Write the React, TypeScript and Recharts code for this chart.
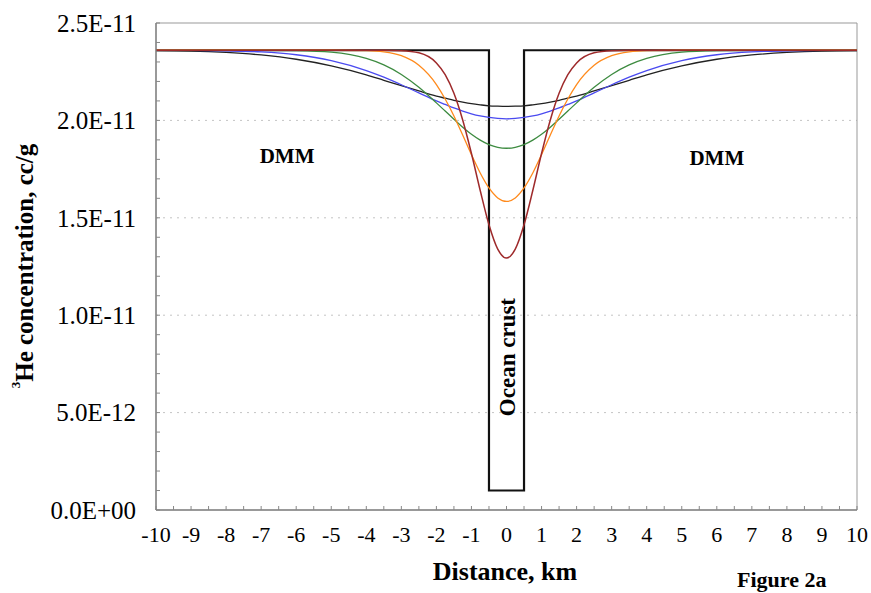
import React from 'react';
import { LineChart, Line, XAxis, YAxis, CartesianGrid, ReferenceLine, ReferenceDot } from 'recharts';

// distance, km
const distances = [-10, -9, -8, -7, -6, -5, -4, -3.5, -3, -2.5, -2, -1.75, -1.5, -1.25, -1, -0.75, -0.5, -0.25, 0,
  0.25, 0.5, 0.75, 1, 1.25, 1.5, 1.75, 2, 2.5, 3, 3.5, 4, 5, 6, 7, 8, 9, 10];

// 3He concentration, in units of 1E-11 cc/g
const brownCurve = [2.36, 2.36, 2.36, 2.36, 2.36, 2.36, 2.36, 2.36, 2.358, 2.347, 2.295, 2.235, 2.139, 2.002, 1.83, 1.64, 1.464, 1.339, 1.293,
  1.339, 1.464, 1.64, 1.83, 2.002, 2.139, 2.235, 2.295, 2.347, 2.358, 2.36, 2.36, 2.36, 2.36, 2.36, 2.36, 2.36, 2.36];
const orangeCurve = [2.36, 2.36, 2.36, 2.36, 2.36, 2.36, 2.358, 2.352, 2.332, 2.283, 2.184, 2.11, 2.023, 1.925, 1.824, 1.73, 1.653, 1.602, 1.584,
  1.602, 1.653, 1.73, 1.824, 1.925, 2.023, 2.11, 2.184, 2.283, 2.332, 2.352, 2.358, 2.36, 2.36, 2.36, 2.36, 2.36, 2.36];
const greenCurve = [2.36, 2.36, 2.36, 2.36, 2.358, 2.35, 2.318, 2.285, 2.236, 2.17, 2.09, 2.048, 2.006, 1.965, 1.929, 1.899, 1.876, 1.862, 1.857,
  1.862, 1.876, 1.899, 1.929, 1.965, 2.006, 2.048, 2.09, 2.17, 2.236, 2.285, 2.318, 2.35, 2.358, 2.36, 2.36, 2.36, 2.36];
const blueCurve = [2.36, 2.359, 2.357, 2.352, 2.337, 2.307, 2.256, 2.222, 2.183, 2.141, 2.1, 2.082, 2.064, 2.048, 2.034, 2.023, 2.015, 2.01, 2.008,
  2.01, 2.015, 2.023, 2.034, 2.048, 2.064, 2.082, 2.1, 2.141, 2.183, 2.222, 2.256, 2.307, 2.337, 2.352, 2.357, 2.359, 2.36];
const blackCurve = [2.358, 2.356, 2.349, 2.336, 2.314, 2.28, 2.234, 2.206, 2.178, 2.151, 2.125, 2.114, 2.103, 2.094, 2.086, 2.08, 2.075, 2.073, 2.072,
  2.073, 2.075, 2.08, 2.086, 2.094, 2.103, 2.114, 2.125, 2.151, 2.178, 2.206, 2.234, 2.28, 2.314, 2.336, 2.349, 2.356, 2.358];

// initial profile: mantle with the ocean crust slab in the middle
const stepDistances = [-10, -0.5, -0.5, 0.5, 0.5, 10];
const stepValues = [2.36, 2.36, 0.1, 0.1, 2.36, 2.36];

const xTicks = [-10, -9.5, -9, -8.5, -8, -7.5, -7, -6.5, -6, -5.5, -5, -4.5, -4, -3.5, -3, -2.5, -2, -1.5, -1, -0.5, 0,
  0.5, 1, 1.5, 2, 2.5, 3, 3.5, 4, 4.5, 5, 5.5, 6, 6.5, 7, 7.5, 8, 8.5, 9, 9.5, 10];
const yTicks = [0, 0.1, 0.2, 0.3, 0.4, 0.5, 0.6, 0.7, 0.8, 0.9, 1, 1.1, 1.2, 1.3, 1.4, 1.5, 1.6, 1.7, 1.8, 1.9, 2,
  2.1, 2.2, 2.3, 2.4, 2.5];
const yGridLines = [0.5, 1, 1.5, 2];

const SERIF = '"Liberation Serif", "Times New Roman", serif';
const X_MARGIN = 16;
const Y_MARGIN = 20;

const rows = distances.map((x, i) => ({
  x,
  brown: brownCurve[i],
  orange: orangeCurve[i],
  green: greenCurve[i],
  blue: blueCurve[i],
  black: blackCurve[i],
}));
const stepRows = stepDistances.map((x, i) => ({ x, step: stepValues[i] }));

// Excel style: 2.5E-11, 0.0E+00
const sci = (v: number) => {
  const s = (v * 1e-11).toExponential(1);
  return s.replace(/e([+-])(\d+)/, (_m, sign, d) => 'E' + sign + d.padStart(2, '0'));
};

const XTick = (props: any) => {
  const { x, y, payload } = props;
  const axisY = y - X_MARGIN;
  const major = Number.isInteger(payload.value);
  return (
    <g>
      <line x1={x} x2={x} y1={axisY} y2={axisY - 4} stroke="#888" strokeWidth={1} />
      {major && (
        <text x={x} y={y} dy="0.71em" textAnchor="middle" fontFamily={SERIF} fontSize={22} fill="#000">
          {payload.value}
        </text>
      )}
    </g>
  );
};

const YTick = (props: any) => {
  const { x, y, payload } = props;
  const axisX = x + Y_MARGIN;
  const v = payload.value;
  const major = Math.abs(v * 2 - Math.round(v * 2)) < 1e-6;
  return (
    <g>
      <line x1={axisX} x2={axisX + 4} y1={y} y2={y} stroke="#888" strokeWidth={1} />
      {major && (
        <text x={x} y={y} dy="0.35em" textAnchor="end" fontFamily={SERIF} fontSize={25} fill="#000">
          {sci(v)}
        </text>
      )}
    </g>
  );
};

const labelStyle = { fill: '#000', fontFamily: SERIF, fontWeight: 700 };

export default function App() {
  return (
    <div style={{ position: 'absolute', left: 0, top: 0, width: 871, height: 593, background: '#fff' }}>
      <LineChart width={871} height={593} data={rows} margin={{ top: 23, right: 14, bottom: 0, left: 0 }}>
        <CartesianGrid vertical={false} horizontalValues={yGridLines} stroke="#c4c4c4" strokeDasharray="2 5" />
        <ReferenceLine y={2.5} stroke="#999" strokeWidth={1} />
        <ReferenceLine x={10} stroke="#999" strokeWidth={1} />
        <XAxis
          dataKey="x"
          type="number"
          domain={[-10, 10]}
          ticks={xTicks}
          interval={0}
          tickSize={0}
          tickMargin={X_MARGIN}
          height={83}
          axisLine={{ stroke: '#777', strokeWidth: 1.5 }}
          tick={<XTick />}
          allowDataOverflow
        />
        <YAxis
          type="number"
          domain={[0, 2.5]}
          ticks={yTicks}
          interval={0}
          tickSize={0}
          tickMargin={Y_MARGIN}
          width={156}
          axisLine={{ stroke: '#777', strokeWidth: 1.5 }}
          tick={<YTick />}
          allowDataOverflow
        />
        <Line data={stepRows} dataKey="step" type="linear" stroke="#111" strokeWidth={2.2} dot={false} isAnimationActive={false} />
        <Line dataKey="black" type="monotone" stroke="#222" strokeWidth={1.3} dot={false} isAnimationActive={false} />
        <Line dataKey="blue" type="monotone" stroke="#4a4af0" strokeWidth={1.3} dot={false} isAnimationActive={false} />
        <Line dataKey="green" type="monotone" stroke="#3d8b40" strokeWidth={1.3} dot={false} isAnimationActive={false} />
        <Line dataKey="orange" type="monotone" stroke="#ff8a1c" strokeWidth={1.3} dot={false} isAnimationActive={false} />
        <Line dataKey="brown" type="monotone" stroke="#9e2a2b" strokeWidth={1.5} dot={false} isAnimationActive={false} />
        <ReferenceDot x={-6.26} y={1.82} r={1} fill="none" stroke="none"
          label={{ value: 'DMM', position: 'center', fontSize: 21, ...labelStyle }} />
        <ReferenceDot x={6.0} y={1.81} r={1} fill="none" stroke="none"
          label={{ value: 'DMM', position: 'center', fontSize: 21, ...labelStyle }} />
        <ReferenceDot x={0} y={0.785} r={1} fill="none" stroke="none"
          label={{ value: 'Ocean crust', position: 'center', angle: -90, fontSize: 23, ...labelStyle }} />
      </LineChart>
      <svg width={871} height={593} style={{ position: 'absolute', left: 0, top: 0, pointerEvents: 'none' }}>
        <text transform="translate(24,266) rotate(-90)" textAnchor="middle" dominantBaseline="central"
          fontFamily={SERIF} fontWeight={700} fontSize={25} fill="#000">
          <tspan fontSize={13} dy={-9}>3</tspan>
          <tspan dy={9}>He concentration, cc/g</tspan>
        </text>
        <text x={505} y={580} textAnchor="middle" fontFamily={SERIF} fontWeight={700} fontSize={26} fill="#000">
          Distance, km
        </text>
        <text x={737} y={587} fontFamily={SERIF} fontWeight={700} fontSize={22} fill="#000">
          Figure 2a
        </text>
      </svg>
    </div>
  );
}
